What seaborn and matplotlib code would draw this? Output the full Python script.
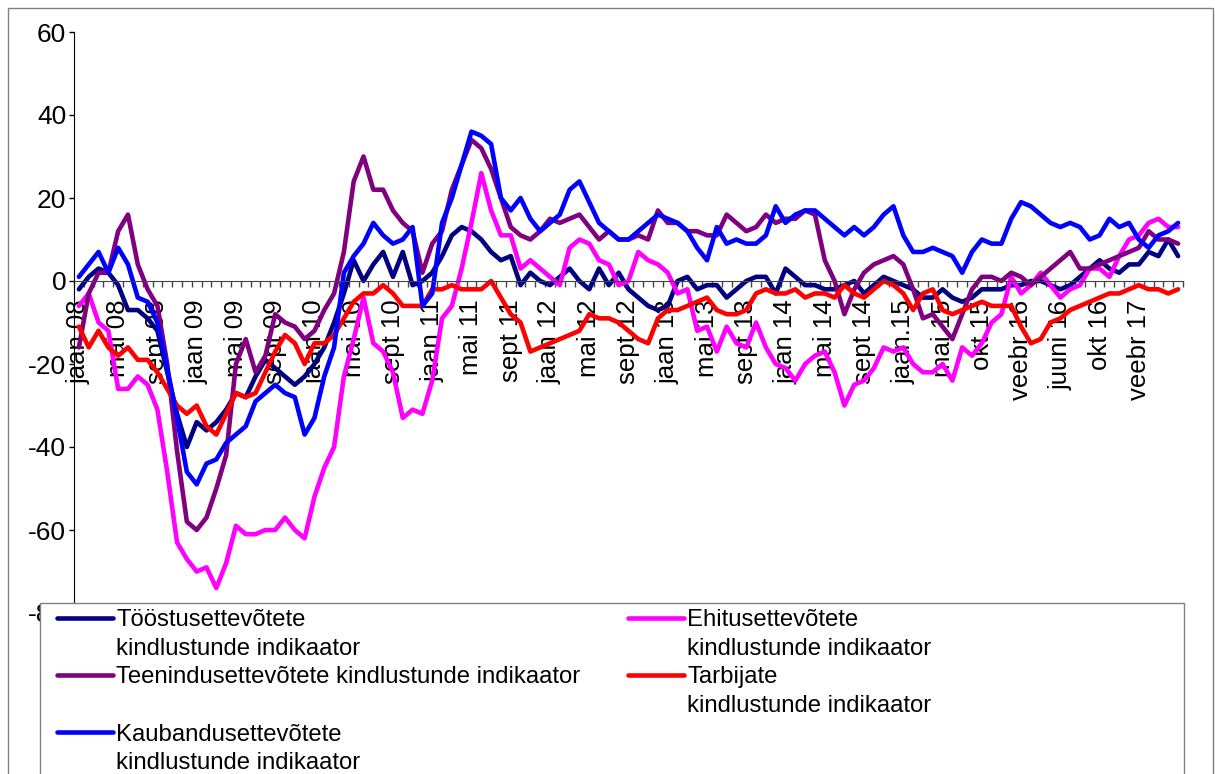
import numpy as np
import pandas as pd
import matplotlib
matplotlib.use("Agg")
import matplotlib.pyplot as plt
from matplotlib.lines import Line2D
from matplotlib.patches import Rectangle
import seaborn as sns

sns.set_style("white")
plt.rcParams['font.family'] = ['Liberation Sans', 'DejaVu Sans']
plt.rcParams['axes.unicode_minus'] = False
plt.rcParams['text.color'] = 'black'
plt.rcParams['xtick.labelcolor'] = 'black'
plt.rcParams['ytick.labelcolor'] = 'black'

# kuu sildid (iga 4. kategooria)
kuu_sildid = ['jaan 08', 'mai 08', 'sept 08', 'jaan 09', 'mai 09', 'sept 09',
              'jaan 10', 'mai 10', 'sept 10', 'jaan 11', 'mai 11', 'sept 11',
              'jaan 12', 'mai 12', 'sept 12', 'jaan 13', 'mai 13', 'sept 13',
              'jaan 14', 'mai 14', 'sept 14', 'jaan.15', 'mai 15', 'okt 15',
              'veebr 16', 'juuni 16', 'okt 16', 'veebr 17']

toostus = [-2, 1, 3, 2, -1, -7, -7, -9, -12, -22, -32, -40,
           -34, -36, -34, -31, -27, -28, -23, -19, -21, -23, -25, -23,
           -20, -16, -10, -3, 5, 0, 4, 7, 1, 7, -1, 0,
           2, 6, 11, 13, 12, 10, 7, 5, 6, -1, 2, 0,
           -1, 1, 3, 0, -2, 3, -1, 2, -2, -4, -6, -7,
           -6, 0, 1, -2, -1, -1, -4, -2, 0, 1, 1, -3,
           3, 1, -1, -1, -2, -2, -1, 0, -3, -1, 1, 0,
           -1, -2, -4, -4, -2, -4, -5, -4, -2, -2, -2, -1,
           -1, 0, 0, -1, -2, -1, 1, 3, 5, 3, 2, 4,
           4, 7, 6, 10, 6]

ehitus = [-6, -3, -10, -12, -26, -26, -23, -25, -31, -46, -63, -67,
          -70, -69, -74, -68, -59, -61, -61, -60, -60, -57, -60, -62,
          -52, -45, -40, -23, -14, -4, -15, -17, -22, -33, -31, -32,
          -24, -9, -6, 3, 14, 26, 17, 11, 11, 3, 5, 3,
          1, -1, 8, 10, 9, 5, 4, -1, 0, 7, 5, 4,
          2, -3, -2, -12, -11, -17, -11, -15, -16, -10, -16, -20,
          -21, -24, -20, -18, -17, -22, -30, -25, -24, -21, -16, -17,
          -16, -20, -22, -22, -20, -24, -16, -18, -15, -10, -8, 1,
          -3, -1, 2, -1, -4, -2, -1, 3, 3, 1, 6, 10,
          11, 14, 15, 13, 13]

teenindus = [-16, -3, 2, 2, 12, 16, 4, -2, -6, -20, -41, -58,
             -60, -57, -50, -42, -20, -14, -22, -18, -8, -10, -11, -14,
             -12, -7, -3, 7, 24, 30, 22, 22, 17, 14, 12, 2,
             9, 12, 22, 28, 34, 32, 27, 20, 13, 11, 10, 12,
             15, 14, 15, 16, 13, 10, 12, 10, 10, 11, 10, 17,
             14, 14, 12, 12, 11, 11, 16, 14, 12, 13, 16, 14,
             15, 15, 17, 16, 5, 0, -8, -2, 2, 4, 5, 6,
             4, -2, -9, -8, -11, -14, -8, -2, 1, 1, 0, 2,
             1, -1, 1, 3, 5, 7, 3, 3, 4, 5, 6, 7,
             8, 12, 10, 10, 9]

tarbijad = [-11, -16, -12, -16, -18, -16, -19, -19, -22, -26, -30, -32,
            -30, -35, -37, -32, -27, -28, -27, -22, -17, -13, -15, -20,
            -15, -15, -13, -9, -5, -3, -3, -1, -3, -6, -6, -6,
            -2, -2, -1, -2, -2, -2, 0, -4, -8, -10, -17, -16,
            -15, -14, -13, -12, -8, -9, -9, -10, -12, -14, -15, -9,
            -7, -7, -6, -5, -4, -7, -8, -8, -7, -3, -2, -3,
            -3, -2, -4, -3, -3, -4, -1, -3, -4, -2, 0, -1,
            -3, -7, -3, -2, -7, -8, -7, -6, -5, -6, -6, -6,
            -11, -15, -14, -10, -9, -7, -6, -5, -4, -3, -3, -2,
            -1, -2, -2, -3, -2]

kaubandus = [1, 4, 7, 2, 8, 4, -4, -5, -10, -21, -33, -46,
             -49, -44, -43, -39, -37, -35, -29, -27, -25, -27, -28, -37,
             -33, -23, -16, 2, 6, 9, 14, 11, 9, 10, 13, -6,
             -3, 14, 20, 28, 36, 35, 33, 20, 17, 20, 15, 12,
             14, 16, 22, 24, 19, 14, 12, 10, 10, 12, 14, 16,
             15, 14, 12, 8, 5, 13, 9, 10, 9, 9, 11, 18,
             14, 16, 17, 17, 15, 13, 11, 13, 11, 13, 16, 18,
             11, 7, 7, 8, 7, 6, 2, 7, 10, 9, 9, 15,
             19, 18, 16, 14, 13, 14, 13, 10, 11, 15, 13, 14,
             10, 8, 11, 12, 14]

nimed = ['Tööstusettevõtete kindlustunde indikaator',
         'Ehitusettevõtete kindlustunde indikaator',
         'Teenindusettevõtete kindlustunde indikaator',
         'Tarbijate kindlustunde indikaator',
         'Kaubandusettevõtete kindlustunde indikaator']
varvid = ['#000080', '#FF00FF', '#800080', '#FF0000', '#0000FF']
seeriad = [toostus, ehitus, teenindus, tarbijad, kaubandus]

n = len(toostus)

df = pd.DataFrame({nimi: s for nimi, s in zip(nimed, seeriad)})
df['kuu'] = np.arange(n)
pikk = df.melt(id_vars='kuu', var_name='seeria', value_name='vaartus')

W, H = 1215, 774
fig = plt.figure(figsize=(W / 100, H / 100), dpi=100)
ax = fig.add_axes([74 / W, 1 - 613 / H, (1183 - 74) / W, (613 - 32) / H])

sns.lineplot(data=pikk, x='kuu', y='vaartus', hue='seeria', hue_order=nimed,
             palette=dict(zip(nimed, varvid)), linewidth=3.3, legend=False,
             ax=ax)

ax.set_xlim(-0.5, n - 0.5)
ax.set_ylim(-80, 60)
ax.set_xlabel('')
ax.set_ylabel('')
ax.set_yticks(range(-80, 61, 20))
ax.tick_params(axis='y', length=3.6, width=1, pad=2, labelsize=19,
               direction='out', left=True, color='black')

ax.set_xticks(np.arange(0, 109, 4))
ax.set_xticklabels(kuu_sildid)
ax.set_xticks(np.arange(-0.5, n, 1), minor=True)
ax.tick_params(axis='x', which='major', length=0, pad=13.5, labelsize=18.5,
               labelrotation=90)
ax.tick_params(axis='x', which='minor', length=4.5, width=1, direction='out',
               bottom=True, color='#444444')

for s in ['top', 'right']:
    ax.spines[s].set_visible(False)
ax.spines['bottom'].set_position(('data', 0))
ax.spines['bottom'].set_color('#444444')
ax.spines['left'].set_color('black')
ax.grid(False)

# raamid
fig.add_artist(Rectangle((8 / W, -0.05), (1213 - 8) / W, 1 - 8 / H + 0.05,
                         transform=fig.transFigure, fill=False,
                         edgecolor='#808080', lw=1, zorder=2))
fig.add_artist(Rectangle((40 / W, -0.05), (1184 - 40) / W, 1 - 603 / H + 0.05,
                         transform=fig.transFigure, facecolor='white',
                         edgecolor='#808080', lw=1, zorder=3))

tuhi = Line2D([], [], color='none')
kaepid = [Line2D([], [], color=varvid[0], lw=3.3), tuhi,
          Line2D([], [], color=varvid[2], lw=3.3), tuhi,
          Line2D([], [], color=varvid[4], lw=3.3), tuhi,
          Line2D([], [], color=varvid[1], lw=3.3), tuhi,
          Line2D([], [], color=varvid[3], lw=3.3), tuhi,
          tuhi, tuhi]
sildid = ['Tööstusettevõtete', 'kindlustunde indikaator',
          'Teenindusettevõtete kindlustunde indikaator', ' ',
          'Kaubandusettevõtete', 'kindlustunde indikaator',
          'Ehitusettevõtete', 'kindlustunde indikaator',
          'Tarbijate', 'kindlustunde indikaator',
          ' ', ' ']
fig.legend(kaepid, sildid, ncol=2, loc='upper left',
           bbox_to_anchor=(57 / W, 1 - 609 / H), frameon=False, fontsize=17.2,
           handlelength=2.34, handletextpad=0.15, columnspacing=1.97,
           labelspacing=0.28, borderpad=0, borderaxespad=0)

fig.savefig('out.png', dpi=100)
